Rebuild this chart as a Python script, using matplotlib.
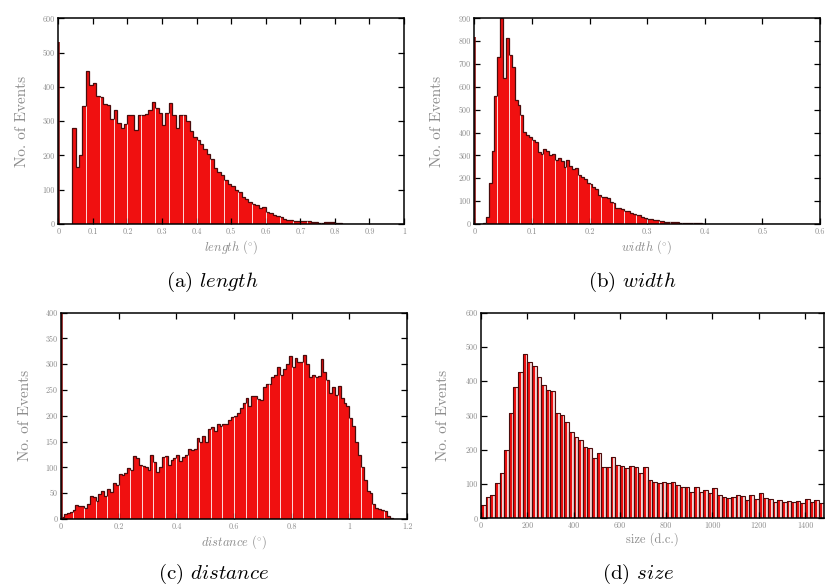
import numpy as np
import matplotlib
matplotlib.use("Agg")
import matplotlib.pyplot as plt
from matplotlib.ticker import FuncFormatter, MultipleLocator

plt.rcParams['mathtext.fontset'] = 'cm'
plt.rcParams['font.family'] = 'serif'
plt.rcParams['font.serif'] = ['cmr10', 'DejaVu Serif']
plt.rcParams['axes.formatter.use_mathtext'] = True

# ---------------- data ----------------
length_bin = 0.01
length_underflow = 530
length_counts = [0, 0, 0, 0, 281, 167, 201, 344, 447, 405,
                 412, 374, 370, 349, 346, 306, 333, 294, 279, 291,
                 318, 318, 274, 318, 318, 321, 333, 357, 338, 323,
                 289, 323, 354, 318, 279, 318, 318, 299, 271, 255,
                 245, 233, 218, 205, 190, 162, 153, 143, 128, 118,
                 110, 100, 94, 80, 72, 64, 58, 55, 46, 50,
                 35, 31, 26, 23, 19, 16, 12, 11, 10, 10,
                 8, 8, 8, 6, 6, 4, 4, 6, 6, 7,
                 4, 2, 0, 0, 0, 0, 0, 0, 0, 0,
                 0, 0, 0, 0, 0, 0, 0, 0, 0, 0]

width_bin = 0.005
width_underflow = 816
width_counts = [0, 0, 0, 5, 30, 181, 321, 560, 732, 900,
                637, 812, 739, 688, 542, 520, 477, 404, 389, 380,
                367, 360, 316, 305, 330, 320, 300, 305, 280, 290,
                275, 250, 278, 255, 240, 245, 215, 205, 195, 178,
                175, 162, 155, 125, 118, 120, 112, 98, 90, 72,
                70, 66, 58, 55, 48, 45, 40, 38, 30, 26,
                22, 20, 18, 16, 14, 12, 10, 9, 9, 8,
                7, 6, 6, 5, 5, 4, 5, 3, 3, 2,
                2, 1, 2, 1, 1, 0, 1, 0, 1, 0,
                0, 2, 0, 1, 0, 0, 0, 0, 0, 0,
                0, 0, 0, 0, 0, 0, 0, 0, 0, 0,
                0, 0, 0, 0, 0, 0, 0, 0, 0, 0]

distance_bin = 0.01
distance_underflow = 400
distance_counts = [3, 10, 12, 13, 18, 28, 25, 26, 22, 30,
                   45, 42, 35, 48, 55, 45, 58, 52, 70, 65,
                   88, 86, 90, 98, 95, 122, 118, 105, 103, 100,
                   95, 125, 110, 92, 100, 120, 122, 105, 115, 118,
                   125, 112, 120, 125, 135, 133, 135, 158, 150, 160,
                   150, 175, 178, 170, 185, 180, 185, 185, 192, 198,
                   200, 205, 215, 225, 235, 220, 238, 238, 232, 230,
                   255, 262, 262, 275, 280, 295, 280, 290, 300, 316,
                   295, 313, 305, 305, 318, 300, 276, 280, 275, 278,
                   310, 285, 270, 245, 255, 240, 258, 235, 225, 220,
                   195, 180, 150, 125, 100, 75, 55, 50, 30, 22,
                   20, 18, 15, 5, 2, 0, 0, 0, 0, 0]

size_bin = 20
size_counts = [40, 63, 68, 102, 131, 199, 306, 384, 428, 479,
               457, 443, 413, 389, 375, 372, 306, 301, 282, 253,
               238, 229, 209, 204, 175, 192, 151, 151, 178, 156,
               153, 146, 153, 151, 131, 149, 112, 107, 104, 107,
               102, 107, 97, 92, 92, 78, 92, 78, 83, 73,
               88, 68, 61, 58, 63, 68, 65, 54, 68, 55,
               73, 58, 56, 49, 54, 49, 51, 49, 51, 46,
               55, 49, 54, 44]

# ---------------- style ----------------
RED = '#f01010'
DARK = '#4a0c0c'
GRAY = '#8c8c8c'

fig = plt.figure(figsize=(8.25, 5.88), dpi=100)
W, H = 825.0, 588.0


def box(l, r, t, b):
    return [l / W, 1 - b / H, (r - l) / W, (b - t) / H]


def fmt(v, pos):
    return '%g' % v


def setup(ax, xlim, ylim, xstep, ystep, xlabel, ylx, xly):
    ax.set_xlim(*xlim)
    ax.set_ylim(*ylim)
    ax.xaxis.set_major_locator(MultipleLocator(xstep))
    ax.yaxis.set_major_locator(MultipleLocator(ystep))
    ax.xaxis.set_major_formatter(FuncFormatter(fmt))
    ax.yaxis.set_major_formatter(FuncFormatter(fmt))
    ax.tick_params(direction='in', top=True, right=True, length=4, width=0.9,
                   color='black', labelsize=5.8, labelcolor=GRAY, pad=2.5)
    for s in ax.spines.values():
        s.set_linewidth(1.1)
        s.set_zorder(5)
    ax.set_ylabel('No. of Events', color=GRAY, fontsize=11)
    ax.yaxis.set_label_coords(ylx, 0.5)
    ax.set_xlabel(xlabel, color=GRAY, fontsize=9)
    ax.xaxis.set_label_coords(0.5, xly)


def solid_hist(ax, counts, bw, underflow):
    c = np.asarray(counts, dtype=float)
    edges = np.arange(len(c) + 1) * bw
    ax.bar(edges[:-1], c, width=bw, align='edge', color=RED, linewidth=0)
    idx = np.arange(4, len(c), 4)
    h = np.minimum(c[idx - 1], c[idx])
    ax.vlines(edges[idx], 0, h, color='white', lw=0.7, alpha=0.85)
    ax.stairs(c, edges, color=DARK, lw=0.9)
    if underflow:
        ax.vlines(0, 0, underflow, color='#8a1010', lw=2.6)


def striped_hist(ax, counts, bw):
    c = np.asarray(counts, dtype=float)
    edges = np.arange(len(c) + 1) * bw
    ax.bar(edges[:-1], c, width=bw, align='edge', color='#f3d2d2', linewidth=0)
    ax.bar(edges[:-1], c, width=bw * 0.62, align='edge', color=RED, linewidth=0)
    ax.bar(edges[:-1], c, width=bw, align='edge', fill=False, edgecolor=DARK, linewidth=0.8)


# (a) length
ax = fig.add_axes(box(58.3, 404, 18.3, 224))
solid_hist(ax, length_counts, length_bin, length_underflow)
setup(ax, (0, 1), (0, 600), 0.1, 100, r'$\mathit{length}\ (^{\circ})$', -0.084, -0.068)

# (b) width
ax = fig.add_axes(box(474.3, 820, 18.3, 224))
solid_hist(ax, width_counts, width_bin, width_underflow)
setup(ax, (0, 0.6), (0, 900), 0.1, 100, r'$\mathit{width}\ (^{\circ})$', -0.087, -0.068)

# (c) distance
ax = fig.add_axes(box(61, 407, 312.7, 519))
solid_hist(ax, distance_counts, distance_bin, distance_underflow)
setup(ax, (0, 1.2), (0, 400), 0.2, 50, r'$\mathit{distance}\ (^{\circ})$', -0.084, -0.07)

# (d) size
ax = fig.add_axes(box(481, 824, 312.7, 518.3))
striped_hist(ax, size_counts, size_bin)
setup(ax, (0, 1482), (0, 600), 200, 100, 'size (d.c.)', -0.09, -0.07)

# captions
cap = dict(fontsize=15, ha='center', va='center', color='black')
fig.text(212 / W, 1 - 282 / H, r'(a) $\mathit{length}$', **cap)
fig.text(632 / W, 1 - 282 / H, r'(b) $\mathit{width}$', **cap)
fig.text(214 / W, 1 - 574 / H, r'(c) $\mathit{distance}$', **cap)
fig.text(638 / W, 1 - 574 / H, r'(d) $\mathit{size}$', **cap)

fig.savefig('out.png', dpi=100)
